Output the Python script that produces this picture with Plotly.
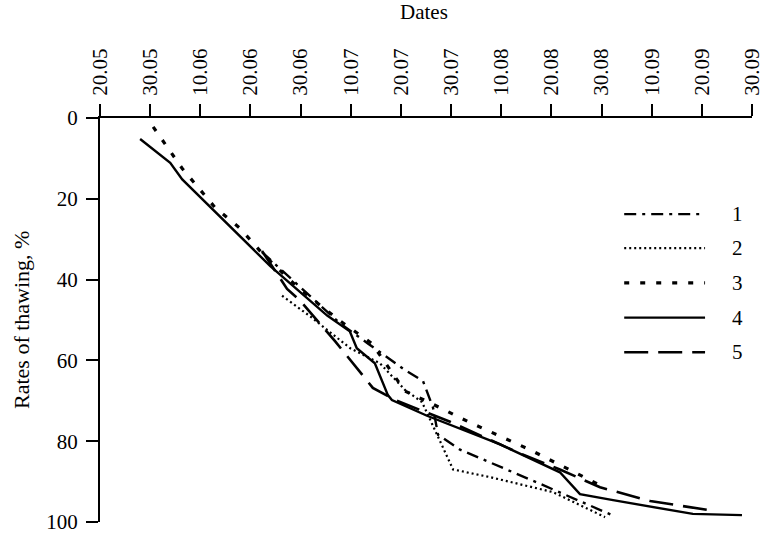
import plotly.graph_objects as go

# Calendar grid: ten-day marks from 20 May to 30 September (x = days from 20.05)
tick_days = [0, 10, 20, 30, 40, 50, 60, 70, 80, 90, 100, 110, 120, 130]
tick_labels = ["20.05", "30.05", "10.06", "20.06", "30.06", "10.07", "20.07",
               "30.07", "10.08", "20.08", "30.08", "10.09", "20.09", "30.09"]
y_ticks = [0, 20, 40, 60, 80, 100]

# Thawing curves: (day, % thawed)
s1_day = [32.3, 39.9, 47.9, 53.4, 60.8, 64.4, 66.4, 67.4, 71.8, 87.1, 102.1]
s1_val = [33.2, 41.8, 50.9, 55.8, 62.4, 65.1, 71.7, 78.4, 82.1, 90.2, 98.3]

s2_day = [36.3, 41.9, 49.9, 55.8, 60.8, 64.2, 70.4, 77.8, 90.3, 100.7]
s2_val = [44.0, 49.1, 57.0, 60.7, 67.3, 70.3, 87.0, 88.9, 92.6, 98.8]

s3_day = [10.6, 16.4, 22.9, 27.9, 32.5, 39.5, 47.5, 54.2, 60.8, 65.8, 73.8, 85.7, 99.7]
s3_val = [2.2, 12.5, 22.1, 27.3, 33.7, 42.0, 49.9, 55.8, 67.6, 70.5, 75.4, 82.1, 90.9]

s4_day = [8.0, 14.0, 16.4, 27.9, 33.9, 45.3, 49.8, 51.2, 54.8, 57.4, 58.2, 65.2,
          79.8, 91.7, 95.7, 102.3, 118.2, 128.0]
s4_val = [5.2, 11.1, 15.2, 29.2, 36.6, 48.9, 52.8, 57.0, 60.7, 68.6, 69.8, 73.7,
          80.8, 87.7, 93.1, 94.6, 98.0, 98.3]

s5_day = [32.3, 37.3, 39.9, 46.9, 54.4, 58.8, 69.8, 83.7, 91.7, 99.7, 109.7, 121.6]
s5_val = [32.9, 42.3, 45.2, 55.3, 66.8, 69.8, 75.2, 83.0, 87.0, 91.4, 94.8, 97.1]

series_names = ["1", "2", "3", "4", "5"]
series_x = [s1_day, s2_day, s3_day, s4_day, s5_day]
series_y = [s1_val, s2_val, s3_val, s4_val, s5_val]

# Line styles (dash pattern, width)
styles = [
    ("12px,6px,3px,6px", 2.4),
    ("2px,3px", 2.2),
    ("5px,11px", 3.2),
    ("solid", 2.4),
    ("24px,10px", 2.6),
]

FONT = "'Liberation Serif', 'Times New Roman', Times, serif"
TICK = dict(family=FONT, size=21, color="black")
TXT = dict(family=FONT, size=21, color="black")

fig = go.Figure()
for name, xs, ys, (dash, w) in zip(series_names, series_x, series_y, styles):
    fig.add_trace(go.Scatter(
        x=xs, y=ys, mode="lines", name=name,
        line=dict(color="black", width=w, dash=dash),
        showlegend=False,
    ))

# Hand-drawn key on the right-hand side
key_rows = [0.762, 0.678, 0.592, 0.506, 0.420]
for name, yk, (dash, w) in zip(series_names, key_rows, styles):
    fig.add_shape(type="line", xref="paper", yref="paper",
                  x0=0.804, x1=0.928, y0=yk, y1=yk,
                  line=dict(color="black", width=w, dash=dash))
    fig.add_annotation(xref="paper", yref="paper", x=0.966, y=yk,
                       text=name, showarrow=False, xanchor="left",
                       yanchor="middle", font=TXT)

# Axis titles
fig.add_annotation(xref="paper", yref="paper", x=0.497, y=1, yshift=106,
                   text="Dates", showarrow=False, yanchor="middle", font=TXT)
fig.add_annotation(xref="paper", yref="paper", x=0, xshift=-79, y=0.5,
                   text="Rates of thawing, %", showarrow=False, textangle=-90,
                   xanchor="center", yanchor="middle",
                   font=dict(family=FONT, size=22, color="black"))

fig.update_layout(
    width=767, height=535,
    margin=dict(l=100, r=15, t=118, b=13),
    paper_bgcolor="white", plot_bgcolor="white",
    font=TXT,
    xaxis=dict(
        side="top", range=[0, 130], tickvals=tick_days, ticktext=tick_labels,
        tickangle=-90, showgrid=False, zeroline=False, automargin=False,
        showline=True, linecolor="black", linewidth=2,
        ticks="outside", ticklen=12, tickwidth=2, tickcolor="black",
        ticklabelstandoff=4, tickfont=TICK, ticklabeloverflow="allow",
    ),
    yaxis=dict(
        range=[100, 0], tickvals=y_ticks, showgrid=False, zeroline=False,
        automargin=False,
        showline=True, linecolor="black", linewidth=2,
        ticks="outside", ticklen=12, tickwidth=2, tickcolor="black",
        ticklabelstandoff=4, tickfont=TICK, ticklabeloverflow="allow",
    ),
)

fig.write_html("out.html")
